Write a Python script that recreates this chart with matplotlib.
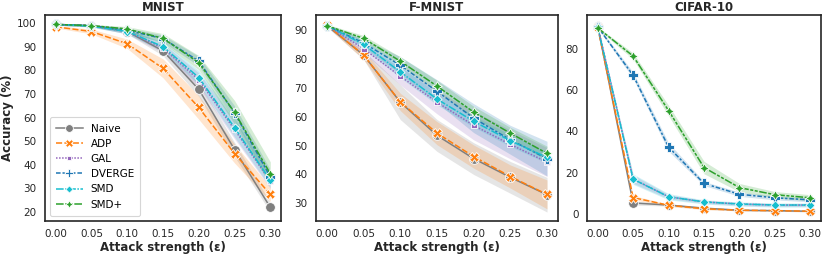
import matplotlib
matplotlib.use("Agg")
import matplotlib.pyplot as plt
import numpy as np

eps = [0.00, 0.05, 0.10, 0.15, 0.20, 0.25, 0.30]
methods = ["Naive", "ADP", "GAL", "DVERGE", "SMD", "SMD+"]
colors = ["#7f7f7f", "#ff7f0e", "#9467bd", "#1f77b4", "#17becf", "#2ca02c"]
markers = ["o", "X", (4, 0, 45), "P", (4, 0, 0), (4, 1, 0)]
dashes = [(None, None), (4, 1.5), (1, 1), (3, 1.25, 1.5, 1.25), (5, 1, 1, 1), (5, 1, 2, 1, 2, 1)]
msizes = [7, 7, 5.5, 7, 6.5, 7]

mnist_mean = {
    "Naive":  [99.5, 99.0, 96.5, 88.3, 72.0, 46.5, 22.0],
    "ADP":    [98.5, 96.5, 91.3, 80.9, 64.3, 44.8, 27.5],
    "GAL":    [99.5, 99.0, 96.5, 89.5, 76.0, 55.0, 33.0],
    "DVERGE": [99.5, 99.0, 97.0, 93.5, 84.0, 62.0, 35.0],
    "SMD":    [99.5, 98.8, 96.5, 90.1, 77.0, 55.8, 33.5],
    "SMD+":   [99.5, 99.0, 97.6, 93.6, 83.3, 62.3, 36.3],
}
mnist_err = {
    "Naive":  [0.3, 0.5, 1.0, 2.0, 3.0, 3.0, 2.0],
    "ADP":    [0.5, 1.0, 2.0, 4.0, 5.0, 4.0, 3.0],
    "GAL":    [0.3, 0.5, 1.0, 2.0, 3.0, 4.0, 3.0],
    "DVERGE": [0.3, 0.5, 1.0, 1.5, 2.0, 3.0, 3.0],
    "SMD":    [0.3, 0.5, 1.0, 2.0, 3.0, 4.0, 3.0],
    "SMD+":   [0.3, 0.5, 1.0, 2.0, 3.0, 5.0, 5.0],
}

fmnist_mean = {
    "Naive":  [91.5, 81.3, 65.0, 53.5, 45.5, 39.0, 33.0],
    "ADP":    [91.7, 81.3, 65.1, 54.3, 46.2, 39.3, 33.1],
    "GAL":    [91.5, 83.5, 74.0, 65.0, 57.0, 50.4, 44.3],
    "DVERGE": [91.5, 85.5, 77.8, 68.8, 59.5, 52.0, 45.5],
    "SMD":    [91.5, 85.0, 75.5, 66.1, 58.4, 51.7, 45.9],
    "SMD+":   [91.5, 87.1, 79.2, 70.6, 61.6, 54.3, 47.3],
}
fmnist_err = {
    "Naive":  [0.5, 1.5, 6.0, 5.5, 5.5, 5.5, 6.0],
    "ADP":    [0.5, 1.5, 3.0, 4.0, 4.0, 4.0, 5.0],
    "GAL":    [0.5, 1.5, 3.0, 4.0, 5.0, 5.0, 5.0],
    "DVERGE": [0.5, 1.5, 3.0, 4.0, 5.0, 5.0, 6.0],
    "SMD":    [0.5, 1.5, 2.0, 2.0, 2.0, 2.0, 2.0],
    "SMD+":   [0.5, 1.0, 1.5, 2.0, 2.0, 2.0, 2.5],
}

cifar_mean = {
    "Naive":  [91.0, 5.5, 4.5, 3.0, 2.0, 1.8, 1.5],
    "ADP":    [90.5, 8.1, 4.4, 2.7, 2.0, 1.8, 1.5],
    "GAL":    [91.0, 17.0, 8.5, 6.0, 5.0, 4.5, 4.5],
    "DVERGE": [90.5, 67.1, 32.5, 14.9, 9.7, 8.0, 7.0],
    "SMD":    [90.5, 17.0, 8.5, 6.0, 5.0, 4.5, 4.5],
    "SMD+":   [90.0, 76.4, 50.1, 22.6, 12.9, 9.5, 8.0],
}
cifar_err = {
    "Naive":  [0.5, 1.0, 0.5, 0.5, 0.3, 0.3, 0.3],
    "ADP":    [0.5, 1.0, 0.5, 0.5, 0.3, 0.3, 0.3],
    "GAL":    [0.5, 2.0, 1.0, 0.7, 0.7, 0.7, 0.7],
    "DVERGE": [0.5, 1.5, 2.0, 1.0, 1.0, 1.0, 1.0],
    "SMD":    [0.5, 2.5, 1.5, 1.0, 1.0, 1.0, 1.0],
    "SMD+":   [0.5, 1.5, 2.5, 3.0, 2.0, 1.5, 1.5],
}

titles = ["MNIST", "F-MNIST", "CIFAR-10"]
means = [mnist_mean, fmnist_mean, cifar_mean]
errs = [mnist_err, fmnist_err, cifar_err]
ylims = [(16.2, 103.5), (23.9, 95.2), (-3.2, 96.2)]
yticks = [np.arange(20, 101, 10), np.arange(30, 91, 10), np.arange(0, 81, 20)]
xticklabels = ["0.00", "0.05", "0.10", "0.15", "0.20", "0.25", "0.30"]

fig = plt.figure(figsize=(8.24, 2.56), dpi=100)
positions = [
    [45 / 824, 35 / 256, 236 / 824, 206 / 256],
    [316 / 824, 35 / 256, 242 / 824, 206 / 256],
    [587 / 824, 35 / 256, 234 / 824, 206 / 256],
]

spine_col = "#262626"
for k in range(3):
    ax = fig.add_axes(positions[k])
    x = np.array(eps)
    for i, m in enumerate(methods):
        y = np.array(means[k][m])
        e = np.array(errs[k][m])
        ax.fill_between(x, y - e, y + e, color=colors[i], alpha=0.2, linewidth=0)
        line, = ax.plot(x, y, color=colors[i], lw=1.1, marker=markers[i], ms=msizes[i],
                        mec="white", mew=0.6, label=m)
        if dashes[i][0] is not None:
            line.set_dashes(dashes[i])
    ax.set_xlim(-0.015, 0.315)
    ax.set_ylim(*ylims[k])
    ax.set_xticks(eps)
    ax.set_xticklabels(xticklabels)
    ax.set_yticks(yticks[k])
    ax.tick_params(axis="both", length=0, labelsize=7.5, colors="#262626", pad=6)
    for s in ax.spines.values():
        s.set_color(spine_col)
        s.set_linewidth(1.2)
    ax.set_title(titles[k], fontsize=8.5, fontweight="bold", pad=3, color="#262626")
    ax.set_xlabel("Attack strength (ε)", fontsize=8.5, fontweight="bold", labelpad=1.5, color="#262626")
    if k == 0:
        ax.set_ylabel("Accuracy (%)", fontsize=8.5, fontweight="bold", labelpad=2, color="#262626")
        leg = ax.legend(loc="lower left", fontsize=7.5, frameon=True, handlelength=2.5,
                        labelspacing=0.5, borderpad=0.6, markerscale=0.8,
                        bbox_to_anchor=(0.0, 0.0))
        leg.get_frame().set_edgecolor("#cccccc")
        leg.get_frame().set_linewidth(0.8)

fig.savefig("out.png", dpi=100)
